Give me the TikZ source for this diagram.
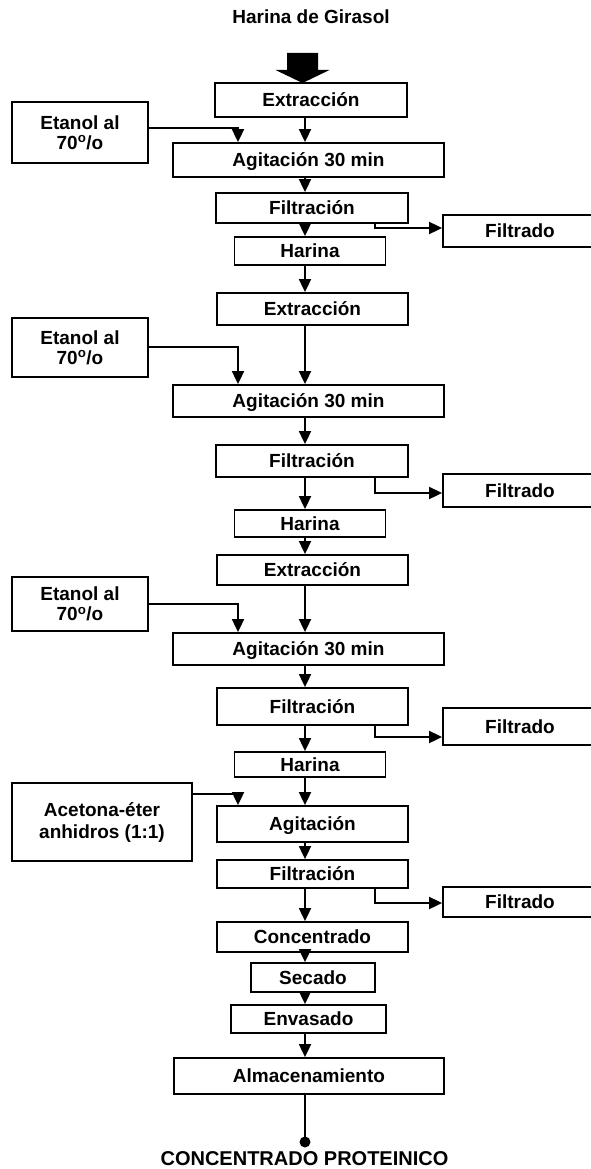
\documentclass[tikz,border=0pt]{standalone}
\usepackage{fontspec}
\setmainfont{Liberation Sans}
\usetikzlibrary{arrows.meta}
\begin{document}
\begin{tikzpicture}[x=1pt,y=-1pt,
  every node/.style={font=\fontsize{19}{22}\selectfont\bfseries},
  box/.style={draw, line width=1.8pt, inner sep=0pt, text height=13.6pt, text depth=0pt},
  mbox/.style={draw, line width=1.8pt, inner sep=0pt, align=center},
  arr/.style={line width=1.8pt, -{Triangle[length=13pt,width=12pt]}},
  lnk/.style={line width=1.8pt}]
\useasboundingbox (0,0) rectangle (591,1169);
\coordinate (mx) at (305,0);
\coordinate (sx) at (238,0);
\coordinate (fx) at (375,0);

\node (title) at (311,17) [text height=13.6pt, text depth=0pt] {Harina de Girasol};

\node[box, minimum width=192pt, minimum height=34pt] (ext1) at (311,100) {Extracción};
\node[mbox, minimum width=136pt, minimum height=61pt] (et1) at (80,132.5) {Etanol al\\[-2pt]70\textsuperscript{o}/o};
\node[box, minimum width=271pt, minimum height=34pt] (ag1) at (308.5,160) {Agitación 30 min};
\node[box, minimum width=192pt, minimum height=30pt] (fil1) at (312,208) {Filtración};
\node[box, minimum width=154pt, minimum height=32pt] (fd1) at (520,231) {Filtrado};
\node[box, minimum width=151pt, minimum height=28pt] (har1) at (310,251) {Harina};

\node[box, minimum width=191pt, minimum height=32pt] (ext2) at (312.5,309) {Extracción};
\node[mbox, minimum width=136pt, minimum height=59pt] (et2) at (80,347.5) {Etanol al\\[-2pt]70\textsuperscript{o}/o};
\node[box, minimum width=271pt, minimum height=32pt] (ag2) at (308.5,401) {Agitación 30 min};
\node[box, minimum width=192pt, minimum height=32pt] (fil2) at (312,461) {Filtración};
\node[box, minimum width=154pt, minimum height=33pt] (fd2) at (520,490.5) {Filtrado};
\node[box, minimum width=151pt, minimum height=27pt] (har2) at (310,523.5) {Harina};

\node[box, minimum width=191pt, minimum height=30pt] (ext3) at (312.5,570) {Extracción};
\node[mbox, minimum width=136pt, minimum height=54pt] (et3) at (80,604) {Etanol al\\[-2pt]70\textsuperscript{o}/o};
\node[box, minimum width=271pt, minimum height=32pt] (ag3) at (308.5,649) {Agitación 30 min};
\node[box, minimum width=191pt, minimum height=37pt] (fil3) at (312.5,706.5) {Filtración};
\node[box, minimum width=154pt, minimum height=37pt] (fd3) at (520,726.5) {Filtrado};
\node[box, minimum width=151pt, minimum height=25pt] (har3) at (310,764.5) {Harina};

\node[mbox, minimum width=180pt, minimum height=78pt] (acet) at (102,822) {Acetona-éter\\anhidros (1:1)};
\node[box, minimum width=191pt, minimum height=36pt] (ag4) at (312.5,824) {Agitación};
\node[box, minimum width=191pt, minimum height=28pt] (fil4) at (312.5,874) {Filtración};
\node[box, minimum width=154pt, minimum height=30pt] (fd4) at (520,902) {Filtrado};
\node[box, minimum width=191pt, minimum height=30pt] (conc) at (312.5,937) {Concentrado};
\node[box, minimum width=124pt, minimum height=29pt] (sec) at (313,977.5) {Secado};
\node[box, minimum width=155pt, minimum height=28pt] (env) at (308.5,1019) {Envasado};
\node[box, minimum width=270pt, minimum height=36pt] (alm) at (309,1076) {Almacenamiento};
\node[circle, fill, inner sep=0pt, minimum size=11pt] (dot) at (305,1142) {};
\node (final) at (304.5,1158) [font=\fontsize{20}{24}\selectfont\bfseries, text height=14.3pt, text depth=0pt] {CONCENTRADO PROTEINICO};

% big input arrow
\coordinate (tip) at (302.5,83);
\fill (tip) -- ++(-27,-13) -- ++(11.5,0) -- ++(0,-17) -- ++(31,0) -- ++(0,17) -- ++(11.5,0) -- cycle;

% main column
\foreach \a/\b in {ext1/ag1, ag1/fil1, fil1/har1, har1/ext2, ext2/ag2, ag2/fil2, fil2/har2, har2/ext3, ext3/ag3, ag3/fil3, fil3/har3, har3/ag4, ag4/fil4, fil4/conc, conc/sec, sec/env, env/alm}
  \draw[arr] (\a.south -| mx) -- (\b.north -| mx);
\draw[lnk] (alm.south -| mx) -- (dot.center);

% side inputs
\coordinate (h1) at (0,128);
\coordinate (h2) at (0,347);
\coordinate (h3) at (0,604);
\coordinate (h4) at (0,794);
\draw[arr] (et1.east |- h1) -| (ag1.north -| sx);
\draw[arr] (et2.east |- h2) -| (ag2.north -| sx);
\draw[arr] (et3.east |- h3) -| (ag3.north -| sx);
\draw[arr] (acet.east |- h4) -| (ag4.north -| sx);

% filtrate outputs
\coordinate (f1) at (0,228);
\coordinate (f2) at (0,493);
\coordinate (f3) at (0,737);
\coordinate (f4) at (0,903);
\draw[arr] (fil1.south -| fx) |- (fd1.west |- f1);
\draw[arr] (fil2.south -| fx) |- (fd2.west |- f2);
\draw[arr] (fil3.south -| fx) |- (fd3.west |- f3);
\draw[arr] (fil4.south -| fx) |- (fd4.west |- f4);
\end{tikzpicture}
\end{document}
